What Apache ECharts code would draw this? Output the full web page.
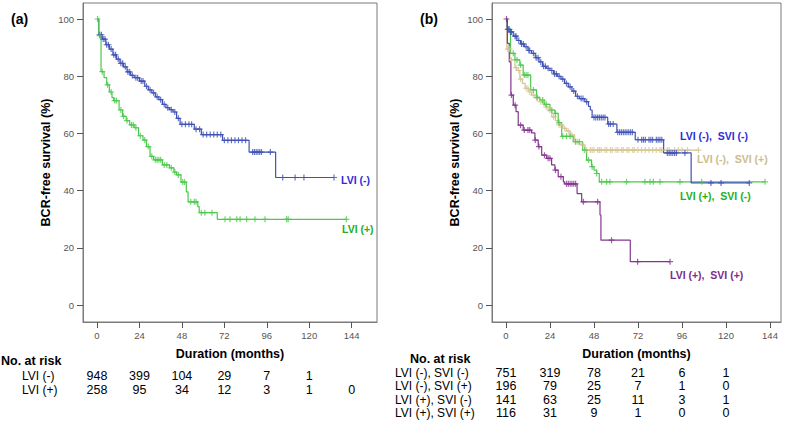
<!DOCTYPE html>
<html>
<head>
<meta charset="utf-8">
<script src="https://cdn.jsdelivr.net/npm/echarts@6/dist/echarts.min.js"></script>
<style>
html,body{margin:0;padding:0;background:#fff;}
#c{width:787px;height:422px;}
</style>
</head>
<body>
<div id="c"></div>
<script>
// ---------- tick labels ----------
const xTicks = [0, 24, 48, 72, 96, 120, 144];
const yTicks = [0, 20, 40, 60, 80, 100];

// ---------- panel (a) curves: [month, survival %] ----------
const aNegCurve = [[0,100],[1,94.5],[3,93],[5,91],[7,89.5],[9,87.5],[11,86],[13,84.5],[15,83.3],[17,81.5],[19,80.3],[21,79.5],[24,78.3],[27,76.5],[29,75.2],[31,74.2],[33,72.8],[35,71.8],[37,70.2],[39,69],[41,68.3],[43,67.5],[45,65.3],[47,63.2],[55,61.5],[59,59.6],[71,57.6],[86,53.5],[101,44.6],[134,44.6]];
const aNegCensor = [1.5,2.5,3.5,4.5,5.5,6.5,8,9.5,10.5,12,13.5,14.5,16,17.5,18.5,20,22,23,25,26,28,30,32,34,36,38,40,42,44,46,48,50,52,53.5,56,58,60,62,64,66,68,70,72,74,76,78,80,82,84,88,89,90,91,92,93,98,105,112,117,134];
const aPosCurve = [[0,100],[1,94.2],[2.3,81.6],[4,79.5],[5.5,77],[7,74.5],[8.5,72.5],[9.5,71.5],[12.5,68.2],[14.5,66],[16.5,64.5],[18.5,63],[21,62],[23.5,59.2],[26,57.7],[28,55.4],[30,52],[32,50.8],[37,49],[41,48],[43.5,46.5],[45,45.5],[47.5,43],[50.5,39.6],[51.5,36.1],[57,34.4],[57.8,32.3],[68,30],[141,30]];
const aPosCensor = [0.3,1.5,3,6,8,10,11,13.5,15,17,19.5,20.5,22,24.5,27,29,31,33,34,35,36,38,39.5,42,44,46,48.5,49.5,53,55,56,59,61,65,72.4,75.2,79,80.9,84.6,89.3,95,107.2,108.1,141];

// ---------- panel (b) curves ----------
const bNNCurve = [[0,100],[0.7,96.4],[2,95.5],[4,94],[6,92.5],[8,91.3],[10,90.3],[12,89],[14,88],[16,86.5],[18,85],[20,83.5],[22,82.8],[24,82],[26,80.8],[28,80],[30,79],[32,77.5],[34,76.3],[36,74.8],[38,73],[40,72.2],[43,71.1],[45,69.5],[46,68.2],[47,65.6],[55.5,63.3],[60.5,60.4],[70.5,57.8],[86,53.2],[101,42.7],[133,42.7]];
const bNNCensor = [1,1.5,2.5,3,5,5.5,7,8.5,9.5,11,12.5,13,15,16.5,17.5,19,20.5,21.5,23,25,26.5,27.5,29,31,33,35,37,39,41,42,44,48,49,50,51,52,53,54,56,57,58.5,61,62,63,64,65,66,67,68,69,72,74,75,76,78,79,80,82,83,84,85,88,89,90,91,92,93,97.6,111.8,117.3,132.7];
const bNPCurve = [[0,100],[0.5,89.5],[2.2,85.7],[4.9,83],[6,82],[7.6,79],[9,77.5],[10.5,75.8],[12.5,74.5],[14,73.4],[16.5,72.3],[18.5,71.1],[20.5,70],[21.5,69.3],[23,68],[25,65.8],[27,64.5],[28.5,63],[31,61.8],[33,60.8],[35,59.4],[37.5,57.1],[40,56.3],[41.5,55.9],[43,54.2],[105,54.2]];
const bNPCensor = [1,2,3,5.5,7,8,11,12,13,15,17,19,20,22,24,26,29,30,32,34,36,38,39,42,44,46,47,48,50,51,52,54,55,57,58,60,61,63,64,66,67,69,70,72,74,76,78,80,82,84,85,88,89,92,94,96,99,105];
const bPNCurve = [[0,100],[0.7,96.4],[2.5,88],[4.9,85.7],[7.6,83.9],[9.4,80.4],[13.5,75.2],[16.7,72.6],[18.5,71.7],[21,70.2],[24,68.2],[26.7,67],[28.5,63.8],[30.4,59],[36.7,57.1],[41.8,54.2],[44,50.7],[46.7,48.4],[48,47.2],[49.5,46],[50.9,43.1],[141.3,43.1]];
const bPNCensor = [2,4,6,8,10,11,12,15,17,20,22,25,27,29,31,33,35,38,40,43,45,47,49.5,52.2,54.9,56.7,65.8,75.8,78.6,80.4,84,94.9,106.8,141.3];
const bPPCurve = [[0,100],[0.8,91.5],[1.8,85],[2.7,73.4],[4,69.9],[5.5,67.6],[6.7,62.9],[9.4,61.2],[14,60.2],[15.8,57.7],[17.6,55.4],[19.5,52.4],[22.2,51.3],[24.9,49],[26.7,47.2],[28.5,44.9],[31.3,43.1],[32,42.4],[38.8,39],[41.3,36.1],[51.3,31.5],[51.8,22.7],[67.8,15.2],[89.5,15.2]];
const bPPCensor = [0.3,3,5,8,10,12,13,16,18,21,23,24,27,30,33,34,35,36,37,38,42.2,50,57.6,71.8,89.5];

// ---------- number at risk ----------
const aRows = ['LVI (-)', 'LVI (+)'];
const aRiskNeg = [948, 399, 104, 29, 7, 1];
const aRiskPos = [258, 95, 34, 12, 3, 1, 0];
const bRows = ['LVI (-), SVI (-)', 'LVI (-), SVI (+)', 'LVI (+), SVI (-)', 'LVI (+), SVI (+)'];
const bRiskNN = [751, 319, 78, 21, 6, 1];
const bRiskNP = [196, 79, 25, 7, 1, 0];
const bRiskPN = [141, 63, 25, 11, 3, 1];
const bRiskPP = [116, 31, 9, 1, 0, 0];

// ---------- colours ----------
const cBlue = '#3f51b5', cGreen = '#4cc94c', cTan = '#d3c593', cPurple = '#84358f';
const FONT = 'Liberation Sans, Arial, sans-serif';

function survAt(curve, t) {
  let s = curve[0][1];
  for (const p of curve) { if (p[0] <= t) s = p[1]; else break; }
  return s;
}
const PLUS = 'path://M2,0H3V2H5V3H3V5H2V3H0V2H2Z';

function kmSeries(curve, censor, color, xi) {
  return [
    { type: 'line', xAxisIndex: xi, yAxisIndex: xi, step: 'end', data: curve, showSymbol: false,
      lineStyle: { color: color, width: 1.2 }, silent: true, z: 3 },
    { type: 'scatter', xAxisIndex: xi, yAxisIndex: xi, data: censor.map(t => [t, survAt(curve, t)]),
      symbol: PLUS, symbolSize: 6, itemStyle: { color: color }, silent: true, z: 4 }
  ];
}
function riskSeries(rowIdx, values, xi) {
  return { type: 'custom', xAxisIndex: xi, yAxisIndex: xi, silent: true,
    data: values.map((v, i) => [xTicks[i], rowIdx, v]),
    renderItem: function (params, api) {
      const pt = api.coord([api.value(0), api.value(1)]);
      return { type: 'text', x: pt[0], y: pt[1],
        style: { text: String(api.value(2)), fill: '#000', font: '12.5px ' + FONT,
                 align: 'center', verticalAlign: 'middle' } };
    } };
}

function plotX(gi, min, max) {
  return { gridIndex: gi, type: 'value', min: min, max: max,
    name: 'Duration (months)', nameLocation: 'middle', nameGap: 25,
    nameTextStyle: { fontFamily: FONT, fontWeight: 'bold', fontSize: 12.5, color: '#000' },
    splitLine: { show: false },
    axisLine: { show: true, onZero: false, lineStyle: { color: '#7a7a7a', width: 1 } },
    axisTick: { show: true, customValues: xTicks, length: 6, lineStyle: { color: '#555' } },
    axisLabel: { customValues: xTicks, color: '#555', fontSize: 9.5, fontFamily: FONT, margin: 8 } };
}
function plotY(gi) {
  return { gridIndex: gi, type: 'value', min: -5.9, max: 105.6,
    name: 'BCR-free survival (%)', nameLocation: 'middle', nameGap: 31, nameRotate: 90,
    nameTextStyle: { fontFamily: FONT, fontWeight: 'bold', fontSize: 12.5, color: '#000' },
    splitLine: { show: false },
    axisLine: { show: true, onZero: false, lineStyle: { color: '#7a7a7a', width: 1 } },
    axisTick: { show: true, customValues: yTicks, length: 6, lineStyle: { color: '#555' } },
    axisLabel: { customValues: yTicks, color: '#555', fontSize: 9.5, fontFamily: FONT, margin: 9 } };
}
function tableY(gi, rows, margin) {
  return { gridIndex: gi, type: 'category', data: rows, inverse: true,
    axisLine: { show: false }, axisTick: { show: false }, splitLine: { show: false },
    axisLabel: { interval: 0, align: 'left', margin: margin, color: '#000', fontSize: 12, fontFamily: FONT } };
}

const chart = echarts.init(document.getElementById('c'), null, { renderer: 'svg' });
chart.setOption({
  animation: false,
  backgroundColor: '#fff',
  grid: [
    { left: 83, top: 3, width: 294, height: 319, show: true, borderColor: '#7a7a7a', borderWidth: 1 },
    { left: 492, top: 3, width: 289, height: 319, show: true, borderColor: '#7a7a7a', borderWidth: 1 },
    { left: 83, top: 369, width: 294, height: 28 },
    { left: 492, top: 366.5, width: 289, height: 53.3 }
  ],
  xAxis: [
    plotX(0, -7.9, 158.3),
    plotX(1, -7.6, 150),
    { gridIndex: 2, type: 'value', min: -7.9, max: 158.3, show: false },
    { gridIndex: 3, type: 'value', min: -7.6, max: 150, show: false }
  ],
  yAxis: [ plotY(0), plotY(1), tableY(2, aRows, 61), tableY(3, bRows, 97) ],
  series: [
    ...kmSeries(aNegCurve, aNegCensor, cBlue, 0),
    ...kmSeries(aPosCurve, aPosCensor, cGreen, 0),
    ...kmSeries(bNPCurve, bNPCensor, cTan, 1),
    ...kmSeries(bPNCurve, bPNCensor, cGreen, 1),
    ...kmSeries(bNNCurve, bNNCensor, cBlue, 1),
    ...kmSeries(bPPCurve, bPPCensor, cPurple, 1),
    riskSeries(0, aRiskNeg, 2),
    riskSeries(1, aRiskPos, 2),
    riskSeries(0, bRiskNN, 3),
    riskSeries(1, bRiskNP, 3),
    riskSeries(2, bRiskPN, 3),
    riskSeries(3, bRiskPP, 3)
  ],
  graphic: [
    { type: 'text', left: 11, top: 12, style: { text: '(a)', font: 'bold 14px ' + FONT, fill: '#000' } },
    { type: 'text', left: 420, top: 12, style: { text: '(b)', font: 'bold 14px ' + FONT, fill: '#000' } },
    { type: 'text', left: 1, top: 354, style: { text: 'No. at risk', font: 'bold 12.5px ' + FONT, fill: '#000' } },
    { type: 'text', left: 410, top: 352, style: { text: 'No. at risk', font: 'bold 12.5px ' + FONT, fill: '#000' } },
    { type: 'text', left: 341, top: 174, style: { text: 'LVI (-)', font: 'bold 10.5px ' + FONT, fill: '#2d2dd6' } },
    { type: 'text', left: 342, top: 223, style: { text: 'LVI (+)', font: 'bold 10.5px ' + FONT, fill: '#23b023' } },
    { type: 'text', left: 680, top: 130, style: { text: 'LVI (-),  SVI (-)', font: 'bold 10.5px ' + FONT, fill: '#2d2dd6' } },
    { type: 'text', left: 697, top: 153, style: { text: 'LVI (-),  SVI (+)', font: 'bold 10.5px ' + FONT, fill: '#cbbd8e' } },
    { type: 'text', left: 680, top: 190, style: { text: 'LVI (+),  SVI (-)', font: 'bold 10.5px ' + FONT, fill: '#23b023' } },
    { type: 'text', left: 670, top: 269, style: { text: 'LVI (+),  SVI (+)', font: 'bold 10.5px ' + FONT, fill: '#7b2d8d' } }
  ]
});
</script>
</body>
</html>
